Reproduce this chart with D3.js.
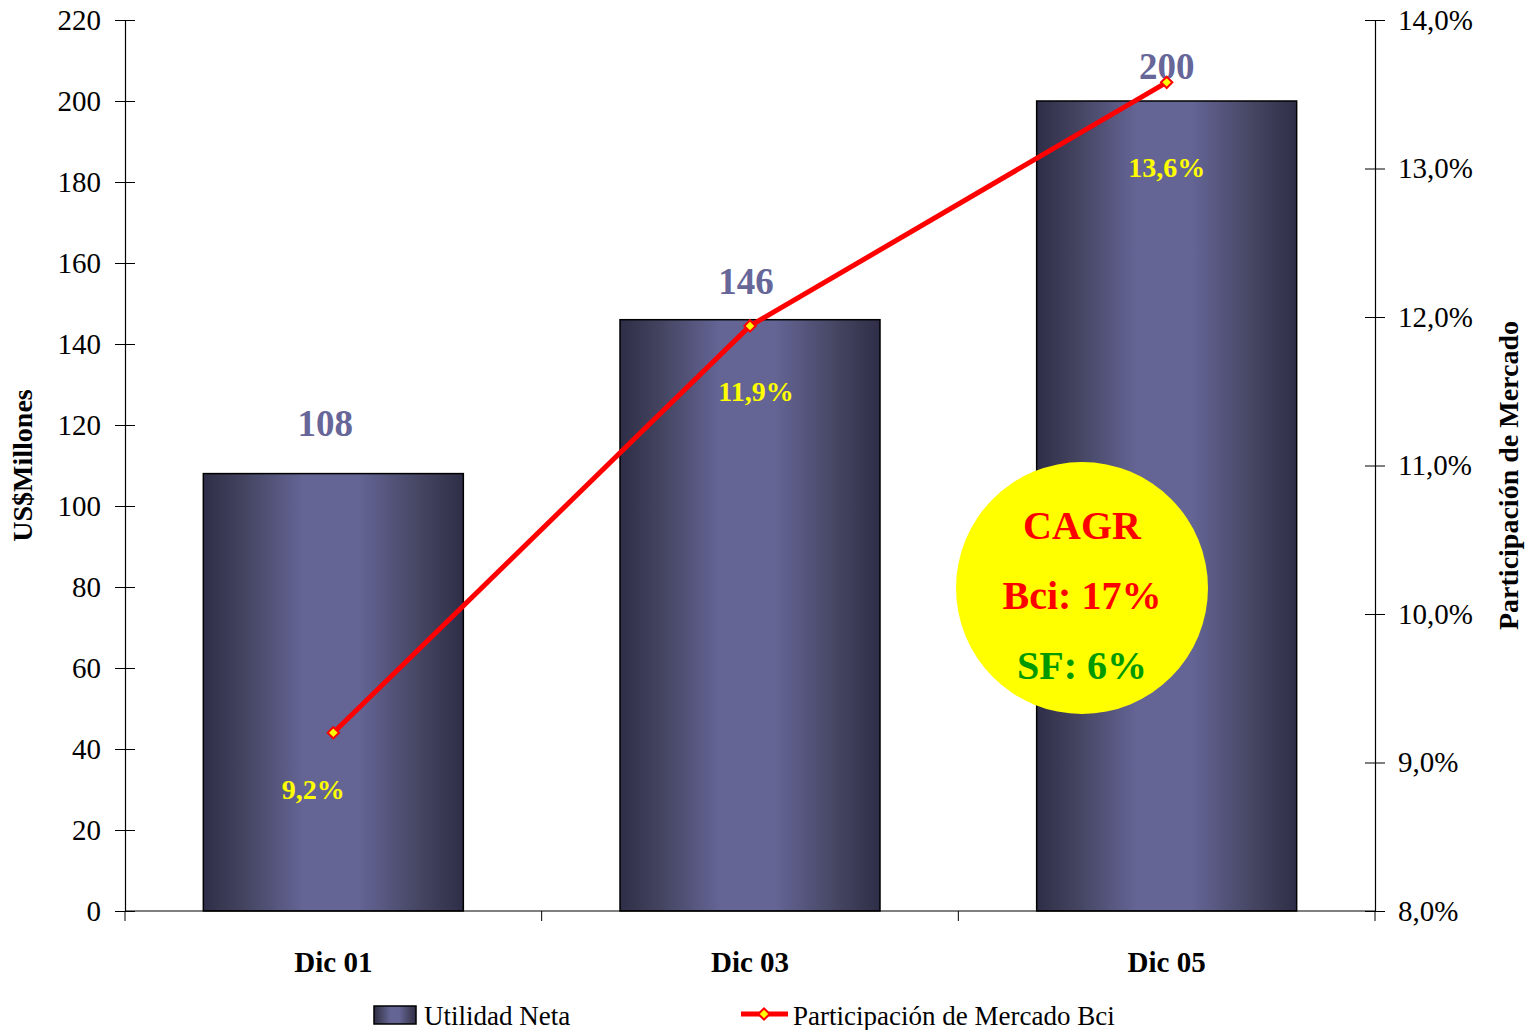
<!DOCTYPE html>
<html><head><meta charset="utf-8">
<script src="https://cdn.jsdelivr.net/npm/d3@7"></script>
<style>
html,body{margin:0;padding:0;background:#fff;}
svg{display:block;font-family:"Liberation Serif","DejaVu Serif",serif;}
</style></head>
<body>
<svg id="chart" width="1528" height="1030"></svg>
<script>
const categories = ["Dic 01", "Dic 03", "Dic 05"];
const utilidadNeta = [108, 146, 200];
const participacion = [9.2, 11.94, 13.58];
const participacionLabels = ["9,2%", "11,9%", "13,6%"];
const leftTicks = [0, 20, 40, 60, 80, 100, 120, 140, 160, 180, 200, 220];
const rightTicks = [8, 9, 10, 11, 12, 13, 14];
const cagrLines = ["CAGR", "Bci: 17%", "SF: 6%"];
const seriesNames = ["Utilidad Neta", "Participación de Mercado Bci"];

const svg = d3.select("#chart");
const L = 125, R = 1375, T = 20, B = 911;

const x = d3.scaleBand().domain(categories).range([L, R]).paddingInner(0.376).paddingOuter(0.188);
const y = d3.scaleLinear().domain([0, 220]).range([B, T]);
const y2 = d3.scaleLinear().domain([8, 14]).range([B, T]);

const defs = svg.append("defs");
const grad = defs.append("linearGradient").attr("id", "barGrad").attr("x1", "0").attr("x2", "1").attr("y1", "0").attr("y2", "0");
[[0, "#2e2e48"], [0.15, "#43435f"], [0.38, "#646495"], [0.6, "#646495"], [0.85, "#43435f"], [1, "#2e2e48"]]
  .forEach(([o, c]) => grad.append("stop").attr("offset", o).attr("stop-color", c));

// Bars
svg.append("g").selectAll("rect").data(utilidadNeta).join("rect")
  .attr("x", (d, i) => x(categories[i]))
  .attr("y", d => y(d))
  .attr("width", x.bandwidth())
  .attr("height", d => B - y(d))
  .attr("fill", "url(#barGrad)")
  .attr("stroke", "#000").attr("stroke-width", 1.5);

// Axes
const fmtPct = d => d.toFixed(1).replace(".", ",") + "%";
const gl = svg.append("g").attr("transform", `translate(${L},0)`)
  .call(d3.axisLeft(y).tickValues(leftTicks).tickSize(10).tickPadding(14));
gl.selectAll(".tick line").attr("x2", -10).attr("x1", 10);
const gr = svg.append("g").attr("transform", `translate(${R},0)`)
  .call(d3.axisRight(y2).tickValues(rightTicks).tickFormat(fmtPct).tickSize(10).tickPadding(13));
gr.selectAll(".tick line").attr("x1", -10).attr("x2", 10);
const gx = svg.append("g").attr("transform", `translate(0,${B})`)
  .call(d3.axisBottom(x).tickSize(0).tickPadding(40));
[gl, gr, gx].forEach(g => {
  g.select(".domain").attr("stroke", "#000").attr("stroke-width", 1.2);
  g.selectAll(".tick line").attr("stroke", "#000").attr("stroke-width", 1);
  g.selectAll("text").attr("fill", "#000").attr("font-family", "Liberation Serif, serif");
});
gx.select(".domain").attr("d", `M${L},0H${R}`);
gl.selectAll("text").attr("font-size", 29);
gr.selectAll("text").attr("font-size", 29);
gx.selectAll("text").attr("font-size", 29).attr("font-weight", "bold");
// x boundary ticks
const boundaries = categories.slice(1).map(c => x(c) - x.step() * x.paddingInner() / 2);
gx.append("g").selectAll("line").data([L, ...boundaries, R]).join("line")
  .attr("x1", d => d).attr("x2", d => d).attr("y1", 0).attr("y2", 10)
  .attr("stroke", "#000").attr("stroke-width", 1);

// Axis titles
svg.append("text").attr("transform", `translate(32,${(T + B) / 2}) rotate(-90)`)
  .attr("text-anchor", "middle").attr("font-size", 28).attr("font-weight", "bold")
  .text("US$Millones");
svg.append("text").attr("transform", `translate(1518,${(T + B) / 2 + 10}) rotate(-90)`)
  .attr("text-anchor", "middle").attr("font-size", 28).attr("font-weight", "bold")
  .text("Participación de Mercado");

// Bar value labels
const valDx = [-8, -4, 0], valDy = [38, 26, 22];
svg.append("g").selectAll("text").data(utilidadNeta).join("text")
  .attr("x", (d, i) => x(categories[i]) + x.bandwidth() / 2 + valDx[i])
  .attr("y", (d, i) => y(d) - valDy[i])
  .attr("text-anchor", "middle").attr("font-size", 37).attr("font-weight", "bold")
  .attr("fill", "#666699").text(d => d);

// Line
const cx = (d, i) => x(categories[i]) + x.bandwidth() / 2;
const line = d3.line().x((d, i) => cx(d, i)).y(d => y2(d));
svg.append("path").datum(participacion).attr("d", line)
  .attr("fill", "none").attr("stroke", "#ff0000").attr("stroke-width", 5).attr("stroke-linejoin", "round");
svg.append("g").selectAll("path").data(participacion).join("path")
  .attr("transform", (d, i) => `translate(${cx(d, i)},${y2(d)}) rotate(45)`)
  .attr("d", "M-4,-4H4V4H-4Z")
  .attr("fill", "#ffff00").attr("stroke", "#ff0000").attr("stroke-width", 2);

// Percent labels
svg.append("g").selectAll("text").data(participacion).join("text")
  .attr("x", (d, i) => cx(d, i) + [-20, 6, 0][i])
  .attr("y", (d, i) => y2(d) + [66, 75, 95][i])
  .attr("text-anchor", "middle").attr("font-size", 28).attr("font-weight", "bold")
  .attr("fill", "#ffff00").text((d, i) => participacionLabels[i]);

// CAGR bubble
const bub = svg.append("g").attr("transform", "translate(1082,588)");
bub.append("circle").attr("r", 126).attr("fill", "#ffff00");
bub.selectAll("text").data(cagrLines).join("text")
  .attr("x", 0).attr("y", (d, i) => -49 + i * 70)
  .attr("text-anchor", "middle").attr("font-size", 40).attr("font-weight", "bold")
  .attr("fill", (d, i) => i === 2 ? "#009900" : "#ff0000").text(d => d);

// Legend
const lg = svg.append("g");
lg.append("rect").attr("x", 374).attr("y", 1006).attr("width", 42).attr("height", 18)
  .attr("fill", "url(#barGrad)").attr("stroke", "#000").attr("stroke-width", 1.5);
lg.append("text").attr("x", 424).attr("y", 1025).attr("font-size", 27).text(seriesNames[0]);
lg.append("line").attr("x1", 741).attr("x2", 788).attr("y1", 1014).attr("y2", 1014)
  .attr("stroke", "#ff0000").attr("stroke-width", 5);
lg.append("path").attr("transform", "translate(764,1014) rotate(45)").attr("d", "M-4,-4H4V4H-4Z")
  .attr("fill", "#ffff00").attr("stroke", "#ff0000").attr("stroke-width", 2);
lg.append("text").attr("x", 793).attr("y", 1025).attr("font-size", 27).text(seriesNames[1]);
</script>
</body></html>
